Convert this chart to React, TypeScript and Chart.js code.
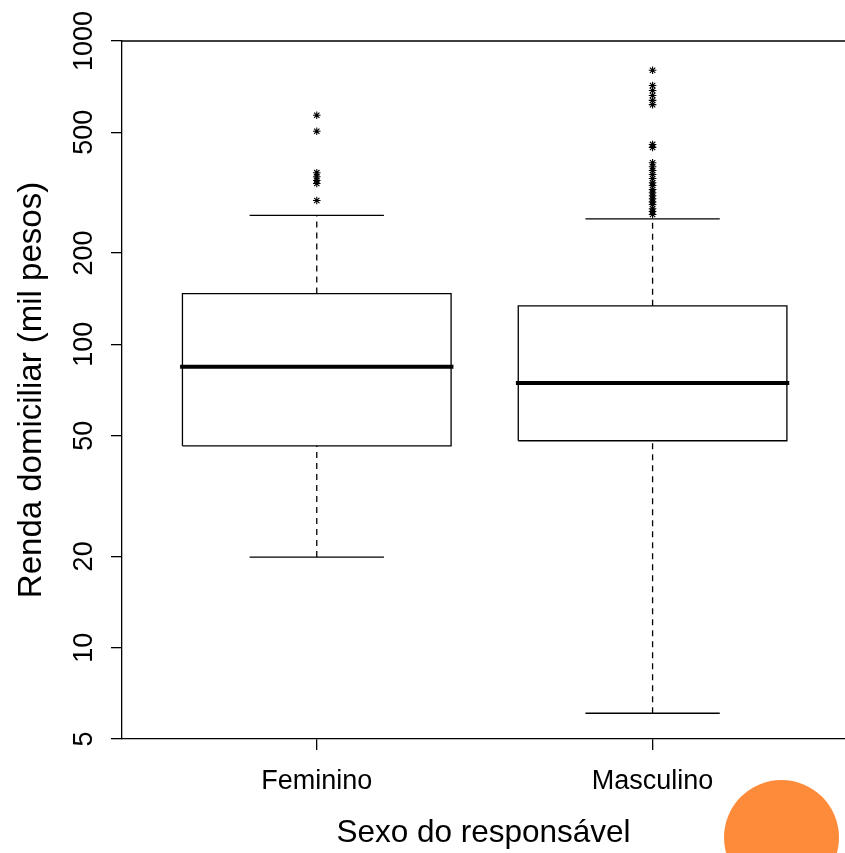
import React, { useEffect, useRef } from "react";
import { Chart, registerables } from "chart.js";

Chart.register(...registerables);

// ---- data ----
const CATEGORIES = ["Feminino", "Masculino"];
const LOWER_WHISKER = [19.9, 6.08];
const Q1 = [46.3, 48.1];
const MEDIAN = [84.3, 74.6];
const Q3 = [147, 134];
const UPPER_WHISKER = [266, 259];
const OUTLIERS_FEMININO = [569, 504, 368, 357, 347, 339, 298];
const OUTLIERS_MASCULINO = [
  801, 713, 687, 661, 637, 617, 456, 446, 397, 385, 374, 363, 352, 341, 334,
  324, 316, 309, 302, 295, 289, 280, 274, 268,
];
const OUTLIERS = [OUTLIERS_FEMININO, OUTLIERS_MASCULINO];
const Y_TICKS = [5, 10, 20, 50, 100, 200, 500, 1000];
const X_TITLE = "Sexo do responsável";
const Y_TITLE = "Renda domiciliar (mil pesos)";

// ---- styling ----
const FONT = "'Liberation Sans', Arial, Helvetica, sans-serif";
const BOX_HALF = 0.4; // R boxwex 0.8
const CAP_HALF = 0.2; // R staplewex 0.5
const MEDIAN_HALF = 0.407;
const LW = 1.3;

function lineDs(points: { x: number; y: number }[], extra: any = {}) {
  return {
    type: "scatter" as const,
    data: points,
    showLine: true,
    borderColor: "#000",
    backgroundColor: "#000",
    borderWidth: LW,
    pointRadius: 0,
    pointHoverRadius: 0,
    pointHitRadius: 0,
    fill: false,
    ...extra,
  };
}

function buildDatasets() {
  const ds: any[] = [];
  CATEGORIES.forEach((_, i) => {
    const x = i + 1;
    // box
    ds.push(
      lineDs([
        { x: x - BOX_HALF, y: Q1[i] },
        { x: x + BOX_HALF, y: Q1[i] },
        { x: x + BOX_HALF, y: Q3[i] },
        { x: x - BOX_HALF, y: Q3[i] },
        { x: x - BOX_HALF, y: Q1[i] },
      ])
    );
    // median
    ds.push(
      lineDs(
        [
          { x: x - MEDIAN_HALF, y: MEDIAN[i] },
          { x: x + MEDIAN_HALF, y: MEDIAN[i] },
        ],
        { borderWidth: 4 }
      )
    );
    // whiskers (dashed)
    ds.push(
      lineDs(
        [
          { x, y: Q3[i] },
          { x, y: UPPER_WHISKER[i] },
        ],
        { borderDash: [6, 5] }
      )
    );
    ds.push(
      lineDs(
        [
          { x, y: LOWER_WHISKER[i] },
          { x, y: Q1[i] },
        ],
        { borderDash: [6, 5] }
      )
    );
    // caps
    ds.push(
      lineDs([
        { x: x - CAP_HALF, y: UPPER_WHISKER[i] },
        { x: x + CAP_HALF, y: UPPER_WHISKER[i] },
      ])
    );
    ds.push(
      lineDs([
        { x: x - CAP_HALF, y: LOWER_WHISKER[i] },
        { x: x + CAP_HALF, y: LOWER_WHISKER[i] },
      ])
    );
    // outliers
    ds.push({
      type: "scatter" as const,
      data: OUTLIERS[i].map((v) => ({ x, y: v })),
      showLine: false,
      pointStyle: "star",
      pointRadius: 3.8,
      pointHoverRadius: 3.8,
      pointBorderWidth: 1.1,
      borderColor: "#000",
      backgroundColor: "#000",
    });
  });
  return ds;
}

const whiteBg = {
  id: "whiteBg",
  beforeDraw(chart: any) {
    const { ctx, width, height } = chart;
    ctx.save();
    ctx.fillStyle = "#fff";
    ctx.fillRect(0, 0, width, height);
    ctx.restore();
  },
};

const frameTop = {
  id: "frameTop",
  afterDraw(chart: any) {
    const { ctx, chartArea } = chart;
    ctx.save();
    ctx.strokeStyle = "#000";
    ctx.lineWidth = LW;
    ctx.beginPath();
    ctx.moveTo(chartArea.left, chartArea.top);
    ctx.lineTo(chartArea.right, chartArea.top);
    ctx.stroke();
    ctx.restore();
  },
};

export default function App() {
  const ref = useRef<HTMLCanvasElement | null>(null);

  useEffect(() => {
    if (!ref.current) return;
    const chart = new Chart(ref.current, {
      type: "scatter",
      data: { datasets: buildDatasets() },
      options: {
        responsive: false,
        animation: false,
        devicePixelRatio: 1,
        layout: { autoPadding: false, padding: { top: 41, left: 0, right: 0, bottom: 0 } },
        plugins: { legend: { display: false }, tooltip: { enabled: false } },
        scales: {
          x: {
            type: "linear",
            min: 0.42,
            max: 2.573,
            afterBuildTicks: (s: any) => {
              s.ticks = CATEGORIES.map((_, i) => ({ value: i + 1 }));
            },
            afterFit: (s: any) => {
              s.height = 114;
            },
            grid: {
              display: true,
              drawOnChartArea: false,
              drawTicks: true,
              tickLength: 11,
              color: "#000",
              lineWidth: LW,
            },
            border: { display: true, color: "#000", width: LW },
            ticks: {
              autoSkip: false,
              minRotation: 0,
              maxRotation: 0,
              padding: 15,
              color: "#000",
              font: { family: FONT, size: 27 },
              callback: (v: any) => CATEGORIES[Math.round(Number(v)) - 1] ?? "",
            },
            title: {
              display: true,
              text: X_TITLE,
              color: "#000",
              font: { family: FONT, size: 31.5 },
              padding: { top: 0, bottom: 1 },
            },
          },
          y: {
            type: "logarithmic",
            min: 5,
            max: 1000,
            afterBuildTicks: (s: any) => {
              s.ticks = Y_TICKS.map((v) => ({ value: v }));
            },
            afterFit: (s: any) => {
              s.width = 122;
            },
            grid: {
              display: true,
              drawOnChartArea: false,
              drawTicks: true,
              tickLength: 11,
              color: "#000",
              lineWidth: LW,
            },
            border: { display: true, color: "#000", width: LW },
            ticks: {
              autoSkip: false,
              minRotation: 90,
              maxRotation: 90,
              crossAlign: "center",
              padding: -4,
              color: "#000",
              font: { family: FONT, size: 27 },
              callback: (v: any) => String(v),
            },
            title: {
              display: true,
              text: Y_TITLE,
              color: "#000",
              font: { family: FONT, size: 33 },
              padding: { top: 12, bottom: 0 },
            },
          },
        },
      } as any,
      plugins: [whiteBg, frameTop],
    });
    return () => chart.destroy();
  }, []);

  return (
    <div style={{ position: "absolute", left: 0, top: 0, width: 845, height: 853, overflow: "hidden", background: "#fff" }}>
      <canvas ref={ref} width={845} height={853} style={{ width: 845, height: 853, display: "block" }} />
      <div
        style={{
          position: "absolute",
          left: 724,
          top: 780,
          width: 115,
          height: 115,
          borderRadius: "50%",
          background: "#fd8b3a",
        }}
      />
    </div>
  );
}
